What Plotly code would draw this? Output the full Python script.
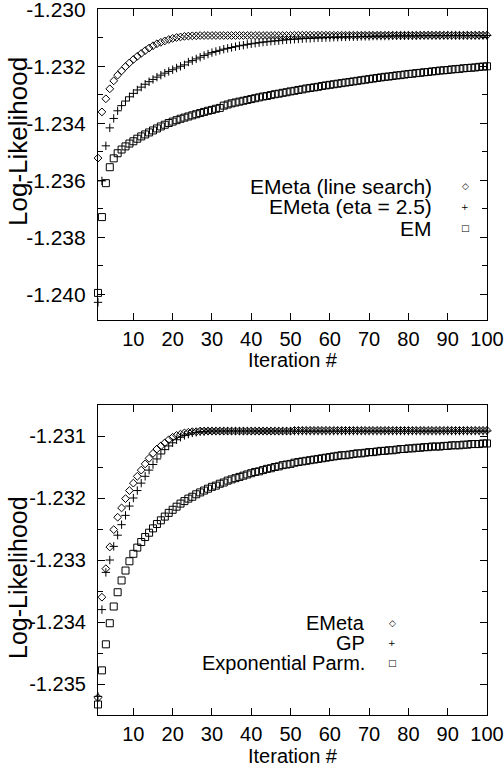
import plotly.graph_objects as go

iters = list(range(1, 101))

# --- top panel series ---
emeta_ls = [-1.23522, -1.23360, -1.23314, -1.23279, -1.23251, -1.23231, -1.23216, -1.23201, -1.23188, -1.23176,
            -1.23165, -1.23155, -1.23145, -1.23136, -1.23128, -1.23121, -1.23116, -1.23111, -1.23106, -1.23102,
            -1.23099, -1.23097, -1.23095, -1.23094, -1.23093, -1.23093, -1.23092, -1.23092, -1.23092, -1.23092] + [-1.23092] * 20 + [-1.23091] * 50
emeta_eta = [-1.24028, -1.23602, -1.23479, -1.23416, -1.23383, -1.23356, -1.23338, -1.23322, -1.23307, -1.23295,
             -1.23283, -1.23273, -1.23263, -1.23254, -1.23246, -1.23238, -1.23231, -1.23224, -1.23218, -1.23212,
             -1.23206, -1.23200, -1.23195, -1.23185, -1.23180, -1.23174, -1.23168, -1.23162, -1.23157, -1.23152,
             -1.23148, -1.23144, -1.23140, -1.23137, -1.23134, -1.23131, -1.23128, -1.23126, -1.23123, -1.23121,
             -1.23119, -1.23117, -1.23115, -1.23114, -1.23112, -1.23111, -1.23110, -1.23108, -1.23107, -1.23106,
             -1.23105, -1.23104, -1.23103, -1.23102, -1.23102, -1.23101, -1.23100, -1.23100, -1.23099, -1.23099,
             -1.23098, -1.23098, -1.23097, -1.23097, -1.23096, -1.23096, -1.23096, -1.23095, -1.23095, -1.23095,
             -1.23094, -1.23094, -1.23094, -1.23094, -1.23094, -1.23093, -1.23093, -1.23093, -1.23093, -1.23093,
             -1.23093, -1.23093, -1.23092, -1.23092, -1.23092, -1.23092, -1.23092, -1.23092, -1.23092, -1.23092,
             -1.23092, -1.23092, -1.23092, -1.23092, -1.23092, -1.23092, -1.23092, -1.23092, -1.23092, -1.23092]
em = [-1.23995, -1.23729, -1.23610, -1.23554, -1.23523, -1.23505, -1.23492, -1.23481, -1.23471, -1.23463,
      -1.23454, -1.23446, -1.23439, -1.23432, -1.23425, -1.23418, -1.23411, -1.23405, -1.23399, -1.23394,
      -1.23389, -1.23384, -1.23380, -1.23376, -1.23372, -1.23368, -1.23364, -1.23360, -1.23356, -1.23353,
      -1.23349, -1.23346, -1.23338, -1.23334, -1.23330, -1.23327, -1.23324, -1.23321, -1.23318, -1.23315,
      -1.23312, -1.23309, -1.23306, -1.23304, -1.23301, -1.23298, -1.23296, -1.23293, -1.23291, -1.23288,
      -1.23286, -1.23283, -1.23281, -1.23278, -1.23276, -1.23274, -1.23272, -1.23269, -1.23267, -1.23265,
      -1.23263, -1.23261, -1.23259, -1.23257, -1.23255, -1.23253, -1.23251, -1.23249, -1.23247, -1.23245,
      -1.23243, -1.23241, -1.23239, -1.23237, -1.23236, -1.23234, -1.23232, -1.23231, -1.23229, -1.23227,
      -1.23226, -1.23224, -1.23223, -1.23221, -1.23220, -1.23218, -1.23217, -1.23215, -1.23214, -1.23213,
      -1.23211, -1.23210, -1.23209, -1.23207, -1.23206, -1.23205, -1.23204, -1.23202, -1.23201, -1.23200]

# --- bottom panel series ---
emeta = emeta_ls
gp = [-1.23520, -1.23380, -1.23320, -1.23300, -1.23278, -1.23260, -1.23243, -1.23228, -1.23213, -1.23200,
      -1.23188, -1.23176, -1.23165, -1.23155, -1.23146, -1.23137, -1.23129, -1.23122, -1.23116, -1.23111,
      -1.23106, -1.23102, -1.23099, -1.23097, -1.23095, -1.23094, -1.23093, -1.23093] + [-1.23092] * 72
exp_parm = [-1.23533, -1.23478, -1.23436, -1.23402, -1.23375, -1.23352, -1.23333, -1.23317, -1.23302, -1.23290,
            -1.23280, -1.23271, -1.23263, -1.23256, -1.23249, -1.23242, -1.23236, -1.23230, -1.23224, -1.23219,
            -1.23214, -1.23209, -1.23205, -1.23201, -1.23198, -1.23194, -1.23191, -1.23188, -1.23185, -1.23182,
            -1.23180, -1.23177, -1.23175, -1.23172, -1.23170, -1.23168, -1.23166, -1.23164, -1.23162, -1.23160,
            -1.23158, -1.23157, -1.23155, -1.23153, -1.23152, -1.23150, -1.23149, -1.23147, -1.23146, -1.23145,
            -1.23143, -1.23142, -1.23141, -1.23140, -1.23139, -1.23138, -1.23137, -1.23136, -1.23135, -1.23134,
            -1.23133, -1.23132, -1.23131, -1.23131, -1.23130, -1.23129, -1.23128, -1.23128, -1.23127, -1.23126,
            -1.23126, -1.23125, -1.23124, -1.23124, -1.23123, -1.23123, -1.23122, -1.23121, -1.23121, -1.23120,
            -1.23120, -1.23119, -1.23119, -1.23118, -1.23118, -1.23117, -1.23117, -1.23117, -1.23116, -1.23116,
            -1.23115, -1.23115, -1.23115, -1.23114, -1.23114, -1.23113, -1.23113, -1.23113, -1.23112, -1.23112]

x_tickvals = [10, 20, 30, 40, 50, 60, 70, 80, 90, 100]
x_ticktext = ["10", "20", "30", "40", "50", "60", "70", "80", "90", "100"]
top_y_tickvals = [-1.240, -1.238, -1.236, -1.234, -1.232, -1.230]
top_y_ticktext = ["-1.240", "-1.238", "-1.236", "-1.234", "-1.232", "-1.230"]
bot_y_tickvals = [-1.235, -1.234, -1.233, -1.232, -1.231]
bot_y_ticktext = ["-1.235", "-1.234", "-1.233", "-1.232", "-1.231"]

top_names = ["EMeta (line search)", "EMeta (eta = 2.5)", "EM"]
bot_names = ["EMeta", "GP", "Exponential Parm."]
x_title = "Iteration #"
y_title = "Log-Likelihood"

FONT = "Liberation Sans, Arial, Helvetica, sans-serif"
FS = 20

fig = go.Figure()

def add(y, sym, size, xa, ya, name):
    fig.add_trace(go.Scatter(
        x=iters, y=y, mode="markers", name=name, showlegend=False,
        xaxis=xa, yaxis=ya, cliponaxis=False,
        marker=dict(symbol=sym, size=size, color="black",
                    line=dict(color="black", width=1)),
    ))

add(emeta_ls, "diamond-open", 6, "x", "y", top_names[0])
add(emeta_eta, "cross-thin-open", 6, "x", "y", top_names[1])
add(em, "square-open", 7, "x", "y", top_names[2])
add(emeta, "diamond-open", 6, "x2", "y2", bot_names[0])
add(gp, "cross-thin-open", 6, "x2", "y2", bot_names[1])
add(exp_parm, "square-open", 7, "x2", "y2", bot_names[2])

def xaxis_cfg(anchor):
    return dict(domain=[0, 1], anchor=anchor, range=[1, 100], automargin=False,
                tickmode="array", tickvals=x_tickvals, ticktext=x_ticktext,
                ticks="inside", ticklen=7, tickwidth=1, tickcolor="black",
                showline=True, linecolor="black", linewidth=1.2, mirror="ticks",
                showgrid=False, zeroline=False, ticklabelstandoff=1,
                ticklabeloverflow="allow",
                tickfont=dict(family=FONT, size=FS, color="black"))

def yaxis_cfg(anchor, domain, rng, tv, tt, mdtick, mtick0, fs):
    return dict(domain=domain, anchor=anchor, range=rng, automargin=False,
                tickmode="array", tickvals=tv, ticktext=tt,
                ticks="inside", ticklen=7, tickwidth=1, tickcolor="black",
                minor=dict(tickmode="linear", tick0=mtick0, dtick=mdtick, ticks="inside",
                           ticklen=5, tickcolor="black", showgrid=False),
                showline=True, linecolor="black", linewidth=1.2, mirror="ticks",
                showgrid=False, zeroline=False, ticklabelstandoff=7,
                ticklabeloverflow="allow",
                tickfont=dict(family=FONT, size=fs, color="black"))

H_PLOT = 706.0
def py(pix):
    return (715 - pix) / H_PLOT
def px(pix):
    return (pix - 98) / 389.0

fig.update_layout(
    width=504, height=767,
    margin=dict(l=98, r=17, t=9, b=52, autoexpand=False),
    paper_bgcolor="white", plot_bgcolor="white",
    font=dict(family=FONT, size=FS, color="black"),
    xaxis=xaxis_cfg("y"),
    yaxis=yaxis_cfg("x", [py(320), 1.0], [-1.2409, -1.22999], top_y_tickvals, top_y_ticktext, 0.002, -1.231, 21),
    xaxis2=xaxis_cfg("y2"),
    yaxis2=yaxis_cfg("x2", [0.0, py(405)], [-1.2355, -1.2305], bot_y_tickvals, bot_y_ticktext, 0.001, -1.2305, 20),
    showlegend=False,
)

ann = []
# axis titles
ann.append(dict(text=x_title, x=0.5, y=py(360), xref="paper", yref="paper", showarrow=False,
                xanchor="center", yanchor="middle", font=dict(family=FONT, size=FS, color="black")))
ann.append(dict(text=x_title, x=0.5, y=py(756), xref="paper", yref="paper", showarrow=False,
                xanchor="center", yanchor="middle", font=dict(family=FONT, size=FS, color="black")))
ann.append(dict(text=y_title, x=px(18), y=py(142), xref="paper", yref="paper", showarrow=False,
                textangle=-90, xanchor="center", yanchor="middle", font=dict(family=FONT, size=26, color="black")))
ann.append(dict(text=y_title, x=px(18), y=py(578), xref="paper", yref="paper", showarrow=False,
                textangle=-90, xanchor="center", yanchor="middle", font=dict(family=FONT, size=25, color="black")))

# legends (gnuplot style: text right-aligned, sample to the right)
glyphs = ["\u25c7", "+", "\u25a1"]
for i, (nm, g) in enumerate(zip(top_names, glyphs)):
    yy = py(186 + 21 * i)
    ann.append(dict(text=nm, x=px(434), y=yy, xref="paper", yref="paper", showarrow=False,
                    xanchor="right", yanchor="middle", font=dict(family=FONT, size=21, color="black")))
    ann.append(dict(text=g, x=px(465), y=yy, xref="paper", yref="paper", showarrow=False,
                    xanchor="center", yanchor="middle", font=dict(family="DejaVu Sans", size=9, color="black")))
for i, (nm, g) in enumerate(zip(bot_names, glyphs)):
    yy = py(623 + 20 * i)
    ann.append(dict(text=nm, x=px(367), y=yy, xref="paper", yref="paper", showarrow=False,
                    xanchor="right", yanchor="middle", font=dict(family=FONT, size=FS, color="black")))
    ann.append(dict(text=g, x=px(392), y=yy, xref="paper", yref="paper", showarrow=False,
                    xanchor="center", yanchor="middle", font=dict(family="DejaVu Sans", size=9, color="black")))

fig.update_layout(annotations=ann)
fig.write_html("out.html", config={"displayModeBar": False},
               post_script="document.body.style.margin='0px';")
